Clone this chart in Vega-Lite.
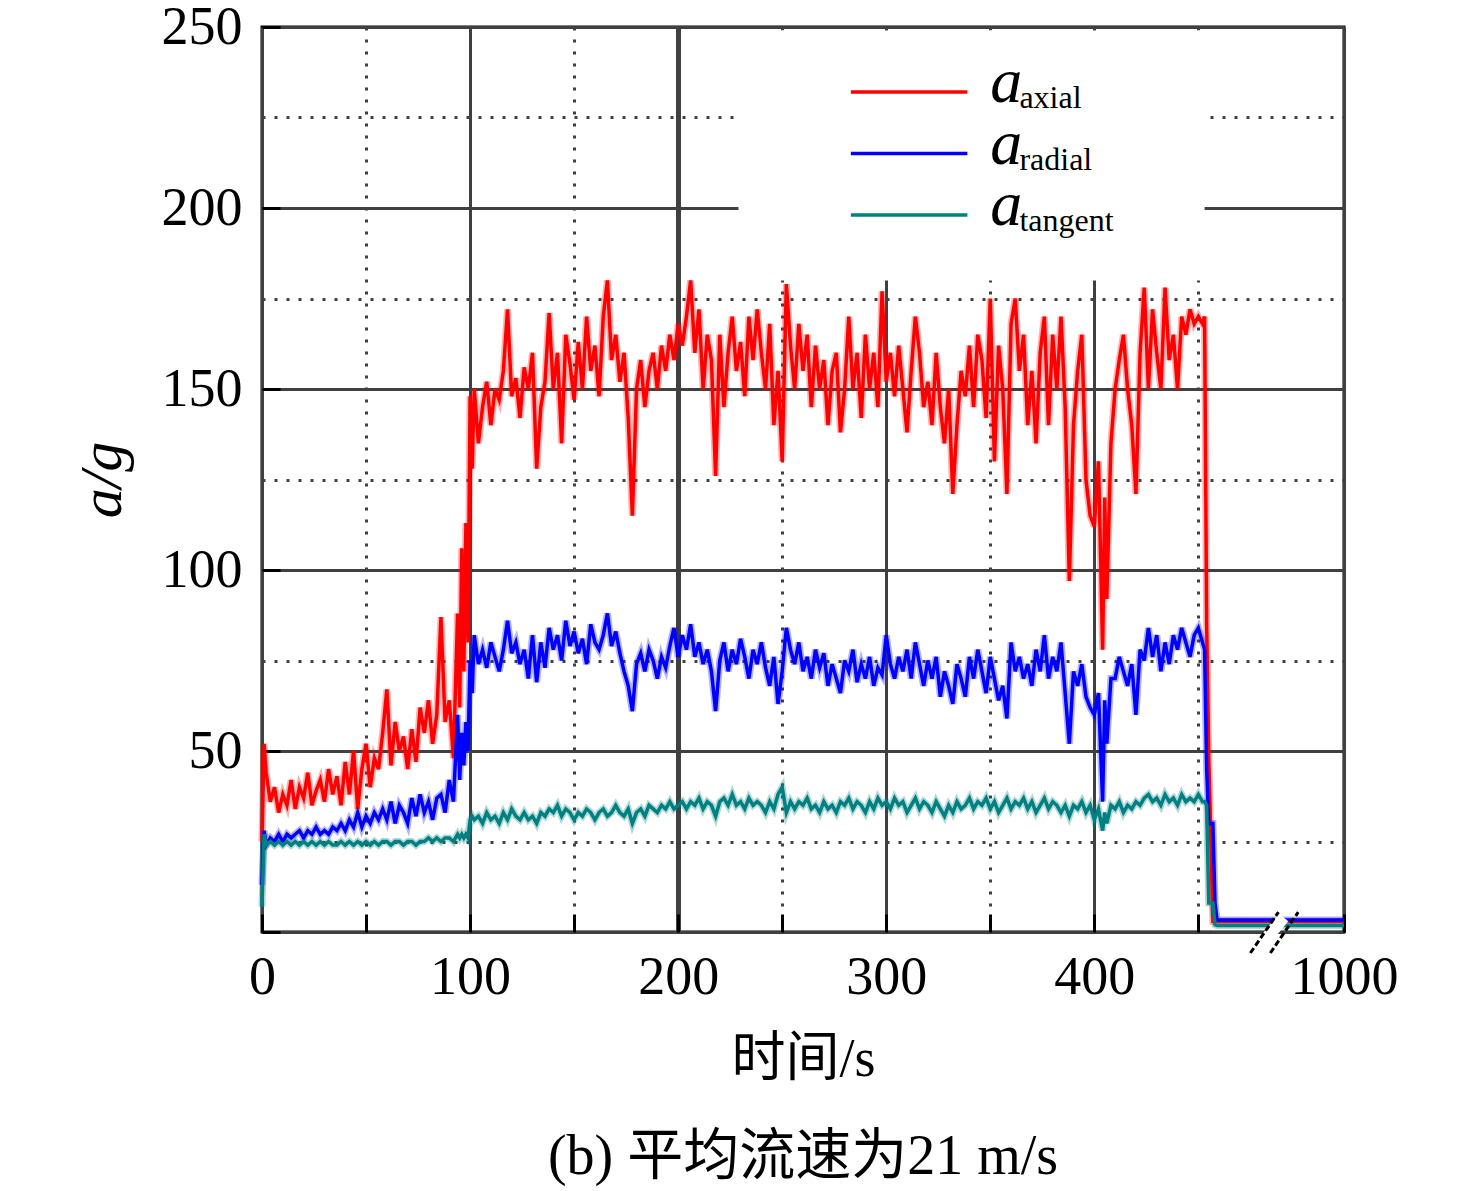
{
  "$schema": "https://vega.github.io/schema/vega-lite/v6.json",
  "width": 1082,
  "height": 905,
  "autosize": {"type": "none"},
  "padding": {"left": 262, "top": 27, "right": 132, "bottom": 259},
  "background": "white",
  "title": {"text": "(b) 平均流速为21 m/s", "orient": "bottom", "anchor": "middle", "fontSize": 56, "font": "Liberation Serif, Noto Sans CJK SC", "fontWeight": "normal", "color": "black", "offset": 44},
  "config": {
    "view": {"stroke": "black", "strokeWidth": 3},
    "axis": {"labelFont": "Liberation Serif", "labelFontSize": 54, "labelColor": "black", "titleFont": "Liberation Serif, Noto Sans CJK SC", "titleFontSize": 54, "titleFontWeight": "normal", "titleColor": "black", "domain": false, "grid": true, "gridColor": "#404040", "gridWidth": 3, "ticks": true, "tickSize": -18, "tickColor": "black", "tickWidth": 3, "labelFlush": false, "labelOverlap": false}
  },
  "datasets": {
    "series": [
{"t":0,"axial":25,"radial":13,"tangent":7},
{"t":1,"axial":52,"radial":28,"tangent":27},
{"t":2,"axial":44,"radial":24,"tangent":24},
{"t":4,"axial":36,"radial":26,"tangent":25},
{"t":6,"axial":40,"radial":25,"tangent":24},
{"t":8,"axial":33,"radial":27,"tangent":25},
{"t":10,"axial":38,"radial":25,"tangent":24},
{"t":12,"axial":35,"radial":27,"tangent":25},
{"t":14,"axial":42,"radial":26,"tangent":24},
{"t":16,"axial":34,"radial":27,"tangent":25},
{"t":18,"axial":40,"radial":28,"tangent":24},
{"t":20,"axial":37,"radial":26,"tangent":25},
{"t":22,"axial":44,"radial":28,"tangent":24},
{"t":24,"axial":35,"radial":27,"tangent":25},
{"t":26,"axial":39,"radial":29,"tangent":24},
{"t":28,"axial":42,"radial":27,"tangent":25},
{"t":30,"axial":36,"radial":28,"tangent":24},
{"t":32,"axial":45,"radial":27,"tangent":25},
{"t":34,"axial":38,"radial":29,"tangent":24},
{"t":36,"axial":43,"radial":28,"tangent":24},
{"t":38,"axial":35,"radial":30,"tangent":25},
{"t":40,"axial":47,"radial":28,"tangent":24},
{"t":42,"axial":38,"radial":31,"tangent":25},
{"t":44,"axial":50,"radial":29,"tangent":24},
{"t":46,"axial":34,"radial":33,"tangent":25},
{"t":48,"axial":45,"radial":29,"tangent":24},
{"t":50,"axial":52,"radial":32,"tangent":25},
{"t":52,"axial":40,"radial":30,"tangent":24},
{"t":54,"axial":48,"radial":33,"tangent":25},
{"t":56,"axial":45,"radial":31,"tangent":24},
{"t":58,"axial":55,"radial":34,"tangent":25},
{"t":60,"axial":67,"radial":31,"tangent":25},
{"t":62,"axial":46,"radial":36,"tangent":24},
{"t":64,"axial":58,"radial":30,"tangent":25},
{"t":66,"axial":50,"radial":35,"tangent":25},
{"t":68,"axial":54,"radial":33,"tangent":24},
{"t":70,"axial":45,"radial":30,"tangent":25},
{"t":72,"axial":56,"radial":37,"tangent":25},
{"t":74,"axial":47,"radial":32,"tangent":24},
{"t":76,"axial":62,"radial":38,"tangent":25},
{"t":78,"axial":55,"radial":33,"tangent":25},
{"t":80,"axial":64,"radial":36,"tangent":26},
{"t":82,"axial":52,"radial":31,"tangent":25},
{"t":84,"axial":60,"radial":37,"tangent":26},
{"t":86,"axial":87,"radial":38,"tangent":25},
{"t":88,"axial":58,"radial":33,"tangent":26},
{"t":90,"axial":64,"radial":42,"tangent":26},
{"t":92,"axial":48,"radial":36,"tangent":25},
{"t":94,"axial":88,"radial":60,"tangent":27},
{"t":95,"axial":62,"radial":42,"tangent":26},
{"t":96,"axial":106,"radial":55,"tangent":27},
{"t":97,"axial":72,"radial":46,"tangent":26},
{"t":98,"axial":113,"radial":58,"tangent":27},
{"t":99,"axial":80,"radial":50,"tangent":26},
{"t":100,"axial":148,"radial":75,"tangent":31},
{"t":101,"axial":128,"radial":66,"tangent":32},
{"t":102,"axial":150,"radial":82,"tangent":31},
{"t":104,"axial":135,"radial":74,"tangent":32},
{"t":106,"axial":145,"radial":78,"tangent":30},
{"t":108,"axial":152,"radial":73,"tangent":33},
{"t":110,"axial":140,"radial":80,"tangent":31},
{"t":112,"axial":150,"radial":76,"tangent":32},
{"t":114,"axial":147,"radial":72,"tangent":30},
{"t":116,"axial":155,"radial":78,"tangent":33},
{"t":118,"axial":172,"radial":86,"tangent":31},
{"t":120,"axial":148,"radial":77,"tangent":34},
{"t":122,"axial":153,"radial":80,"tangent":32},
{"t":124,"axial":142,"radial":74,"tangent":31},
{"t":126,"axial":156,"radial":78,"tangent":33},
{"t":128,"axial":150,"radial":70,"tangent":31},
{"t":130,"axial":160,"radial":82,"tangent":32},
{"t":132,"axial":128,"radial":69,"tangent":30},
{"t":134,"axial":145,"radial":80,"tangent":33},
{"t":136,"axial":152,"radial":73,"tangent":32},
{"t":138,"axial":171,"radial":84,"tangent":34},
{"t":140,"axial":150,"radial":78,"tangent":33},
{"t":142,"axial":160,"radial":82,"tangent":35},
{"t":144,"axial":135,"radial":75,"tangent":32},
{"t":146,"axial":165,"radial":86,"tangent":34},
{"t":148,"axial":157,"radial":79,"tangent":33},
{"t":150,"axial":147,"radial":83,"tangent":31},
{"t":152,"axial":163,"radial":77,"tangent":33},
{"t":154,"axial":150,"radial":81,"tangent":32},
{"t":156,"axial":170,"radial":74,"tangent":34},
{"t":158,"axial":155,"radial":85,"tangent":33},
{"t":160,"axial":162,"radial":80,"tangent":31},
{"t":162,"axial":148,"radial":78,"tangent":33},
{"t":164,"axial":170,"radial":82,"tangent":34},
{"t":166,"axial":180,"radial":88,"tangent":32},
{"t":168,"axial":158,"radial":79,"tangent":33},
{"t":170,"axial":165,"radial":83,"tangent":35},
{"t":172,"axial":152,"radial":77,"tangent":33},
{"t":174,"axial":160,"radial":72,"tangent":32},
{"t":176,"axial":142,"radial":68,"tangent":34},
{"t":178,"axial":115,"radial":61,"tangent":30},
{"t":180,"axial":150,"radial":74,"tangent":33},
{"t":182,"axial":158,"radial":77,"tangent":34},
{"t":184,"axial":145,"radial":72,"tangent":32},
{"t":186,"axial":155,"radial":78,"tangent":35},
{"t":188,"axial":160,"radial":75,"tangent":34},
{"t":190,"axial":150,"radial":70,"tangent":33},
{"t":192,"axial":162,"radial":76,"tangent":35},
{"t":194,"axial":155,"radial":73,"tangent":34},
{"t":196,"axial":165,"radial":79,"tangent":36},
{"t":198,"axial":158,"radial":84,"tangent":34},
{"t":200,"axial":168,"radial":76,"tangent":35},
{"t":202,"axial":162,"radial":82,"tangent":36},
{"t":204,"axial":170,"radial":78,"tangent":34},
{"t":206,"axial":180,"radial":85,"tangent":36},
{"t":208,"axial":160,"radial":76,"tangent":35},
{"t":210,"axial":172,"radial":80,"tangent":37},
{"t":212,"axial":150,"radial":74,"tangent":34},
{"t":214,"axial":165,"radial":78,"tangent":36},
{"t":216,"axial":158,"radial":72,"tangent":35},
{"t":218,"axial":126,"radial":61,"tangent":32},
{"t":220,"axial":165,"radial":75,"tangent":36},
{"t":222,"axial":145,"radial":80,"tangent":37},
{"t":224,"axial":160,"radial":72,"tangent":35},
{"t":226,"axial":170,"radial":78,"tangent":38},
{"t":228,"axial":155,"radial":74,"tangent":35},
{"t":230,"axial":163,"radial":81,"tangent":36},
{"t":232,"axial":148,"radial":76,"tangent":34},
{"t":234,"axial":170,"radial":70,"tangent":37},
{"t":236,"axial":158,"radial":78,"tangent":35},
{"t":238,"axial":172,"radial":74,"tangent":36},
{"t":240,"axial":160,"radial":80,"tangent":35},
{"t":242,"axial":150,"radial":73,"tangent":33},
{"t":244,"axial":168,"radial":68,"tangent":36},
{"t":246,"axial":140,"radial":76,"tangent":34},
{"t":248,"axial":155,"radial":63,"tangent":38},
{"t":250,"axial":130,"radial":72,"tangent":40},
{"t":252,"axial":179,"radial":84,"tangent":33},
{"t":254,"axial":162,"radial":78,"tangent":36},
{"t":256,"axial":150,"radial":74,"tangent":34},
{"t":258,"axial":168,"radial":80,"tangent":36},
{"t":260,"axial":155,"radial":72,"tangent":35},
{"t":262,"axial":165,"radial":76,"tangent":37},
{"t":264,"axial":145,"radial":70,"tangent":34},
{"t":266,"axial":162,"radial":78,"tangent":35},
{"t":268,"axial":150,"radial":73,"tangent":33},
{"t":270,"axial":158,"radial":77,"tangent":36},
{"t":272,"axial":140,"radial":68,"tangent":34},
{"t":274,"axial":155,"radial":74,"tangent":35},
{"t":276,"axial":160,"radial":70,"tangent":33},
{"t":278,"axial":138,"radial":66,"tangent":36},
{"t":280,"axial":150,"radial":75,"tangent":35},
{"t":282,"axial":170,"radial":72,"tangent":37},
{"t":284,"axial":150,"radial":78,"tangent":34},
{"t":286,"axial":160,"radial":69,"tangent":36},
{"t":288,"axial":142,"radial":74,"tangent":35},
{"t":290,"axial":165,"radial":70,"tangent":33},
{"t":292,"axial":150,"radial":76,"tangent":36},
{"t":294,"axial":160,"radial":68,"tangent":34},
{"t":296,"axial":145,"radial":73,"tangent":37},
{"t":298,"axial":177,"radial":71,"tangent":35},
{"t":300,"axial":152,"radial":82,"tangent":36},
{"t":302,"axial":160,"radial":74,"tangent":34},
{"t":304,"axial":148,"radial":70,"tangent":37},
{"t":306,"axial":162,"radial":76,"tangent":35},
{"t":308,"axial":150,"radial":72,"tangent":36},
{"t":310,"axial":138,"radial":78,"tangent":33},
{"t":312,"axial":155,"radial":70,"tangent":35},
{"t":314,"axial":170,"radial":80,"tangent":37},
{"t":316,"axial":160,"radial":74,"tangent":34},
{"t":318,"axial":145,"radial":68,"tangent":36},
{"t":320,"axial":152,"radial":75,"tangent":35},
{"t":322,"axial":140,"radial":70,"tangent":33},
{"t":324,"axial":160,"radial":76,"tangent":36},
{"t":326,"axial":145,"radial":65,"tangent":34},
{"t":328,"axial":135,"radial":72,"tangent":32},
{"t":330,"axial":150,"radial":68,"tangent":35},
{"t":332,"axial":121,"radial":63,"tangent":33},
{"t":334,"axial":140,"radial":74,"tangent":36},
{"t":336,"axial":155,"radial":70,"tangent":34},
{"t":338,"axial":148,"radial":65,"tangent":35},
{"t":340,"axial":162,"radial":76,"tangent":37},
{"t":342,"axial":145,"radial":70,"tangent":34},
{"t":344,"axial":165,"radial":78,"tangent":36},
{"t":346,"axial":158,"radial":72,"tangent":35},
{"t":348,"axial":142,"radial":66,"tangent":37},
{"t":350,"axial":175,"radial":76,"tangent":34},
{"t":352,"axial":130,"radial":70,"tangent":36},
{"t":354,"axial":162,"radial":64,"tangent":33},
{"t":356,"axial":150,"radial":68,"tangent":35},
{"t":358,"axial":121,"radial":59,"tangent":37},
{"t":360,"axial":168,"radial":80,"tangent":34},
{"t":362,"axial":175,"radial":72,"tangent":36},
{"t":364,"axial":155,"radial":76,"tangent":35},
{"t":366,"axial":165,"radial":70,"tangent":37},
{"t":368,"axial":140,"radial":74,"tangent":34},
{"t":370,"axial":155,"radial":68,"tangent":36},
{"t":372,"axial":135,"radial":78,"tangent":33},
{"t":374,"axial":160,"radial":72,"tangent":35},
{"t":376,"axial":170,"radial":82,"tangent":37},
{"t":378,"axial":140,"radial":70,"tangent":34},
{"t":380,"axial":165,"radial":76,"tangent":36},
{"t":382,"axial":150,"radial":72,"tangent":35},
{"t":384,"axial":170,"radial":80,"tangent":33},
{"t":386,"axial":145,"radial":66,"tangent":35},
{"t":388,"axial":97,"radial":52,"tangent":32},
{"t":390,"axial":140,"radial":72,"tangent":35},
{"t":392,"axial":155,"radial":68,"tangent":34},
{"t":394,"axial":165,"radial":74,"tangent":36},
{"t":396,"axial":125,"radial":65,"tangent":33},
{"t":398,"axial":115,"radial":62,"tangent":35},
{"t":400,"axial":112,"radial":60,"tangent":31},
{"t":402,"axial":130,"radial":66,"tangent":34},
{"t":404,"axial":78,"radial":36,"tangent":28},
{"t":405,"axial":120,"radial":64,"tangent":33},
{"t":406,"axial":92,"radial":52,"tangent":30},
{"t":408,"axial":135,"radial":70,"tangent":35},
{"t":410,"axial":150,"radial":70,"tangent":34},
{"t":412,"axial":158,"radial":76,"tangent":36},
{"t":414,"axial":165,"radial":72,"tangent":33},
{"t":416,"axial":150,"radial":68,"tangent":35},
{"t":418,"axial":140,"radial":74,"tangent":34},
{"t":420,"axial":121,"radial":60,"tangent":36},
{"t":422,"axial":160,"radial":78,"tangent":35},
{"t":424,"axial":178,"radial":75,"tangent":37},
{"t":426,"axial":150,"radial":84,"tangent":38},
{"t":428,"axial":172,"radial":76,"tangent":36},
{"t":430,"axial":160,"radial":82,"tangent":37},
{"t":432,"axial":150,"radial":72,"tangent":35},
{"t":434,"axial":178,"radial":80,"tangent":38},
{"t":436,"axial":158,"radial":74,"tangent":36},
{"t":438,"axial":165,"radial":82,"tangent":37},
{"t":440,"axial":150,"radial":78,"tangent":35},
{"t":442,"axial":170,"radial":84,"tangent":38},
{"t":444,"axial":165,"radial":80,"tangent":36},
{"t":446,"axial":172,"radial":76,"tangent":37},
{"t":448,"axial":168,"radial":82,"tangent":36},
{"t":450,"axial":170,"radial":84,"tangent":38},
{"t":452,"axial":168,"radial":80,"tangent":36},
{"t":453,"axial":170,"radial":78,"tangent":36},
{"t":454,"axial":85,"radial":45,"tangent":35},
{"t":455,"axial":48,"radial":30,"tangent":8},
{"t":457,"axial":3,"radial":30,"tangent":8},
{"t":458,"axial":3,"radial":8,"tangent":2},
{"t":459,"axial":3,"radial":3.3,"tangent":1.8},
{"t":520,"axial":3,"radial":3.3,"tangent":1.8}
    ],
    "legend": [{"s": "axial"}, {"s": "radial"}, {"s": "tangent"}]
  },
  "layer": [
    {
      "layer": [
        {
          "data": {"values": [{}]},
          "mark": {"type": "rect", "color": "white"},
          "encoding": {"x": {"datum": 229}, "x2": {"datum": 453}, "y": {"datum": 180}, "y2": {"datum": 249}}
        },
        {
          "data": {"name": "series"},
          "transform": [{"fold": ["axial", "radial", "tangent"], "as": ["s", "v"]}],
          "mark": {"type": "line", "strokeWidth": 7, "opacity": 0.3},
          "encoding": {
            "x": {"field": "t", "type": "quantitative"},
            "y": {"field": "v", "type": "quantitative"},
            "color": {"field": "s", "type": "nominal", "legend": null},
            "order": {"field": "t", "type": "quantitative"}
          }
        },
        {
          "data": {"name": "series"},
          "transform": [{"fold": ["axial", "radial", "tangent"], "as": ["s", "v"]}],
          "mark": {"type": "line", "strokeWidth": 3.5},
          "encoding": {
            "x": {"field": "t", "type": "quantitative", "scale": {"domain": [0, 520], "nice": false, "zero": false},
              "axis": {"title": "时间/s", "values": [0, 50, 100, 150, 200, 250, 300, 350, 400, 450, 520],
                "labelExpr": "datum.value == 520 ? '1000' : (datum.value % 100 == 0 ? datum.label : '')",
                "labelPadding": 36, "titlePadding": 28,
                "gridDash": {"condition": {"test": "datum.value % 100 != 0 && datum.value != 520", "value": [3, 9]}, "value": []},
                "gridWidth": {"condition": {"test": "datum.value == 200", "value": 5}, "value": 3}}},
            "y": {"field": "v", "type": "quantitative", "scale": {"domain": [0, 250], "nice": false},
              "axis": {"title": "a/g", "titleFontStyle": "italic", "titleFontSize": 60, "values": [0, 25, 50, 75, 100, 125, 150, 175, 200, 225, 250],
                "labelExpr": "datum.value % 50 == 0 && datum.value > 0 ? datum.label : ''",
                "labelPadding": 38, "titlePadding": 28,
                "tickOpacity": {"condition": {"test": "datum.value % 50 != 0", "value": 0}, "value": 1},
                "gridDash": {"condition": {"test": "datum.value % 50 != 0", "value": [3, 9]}, "value": []}}},
            "color": {"field": "s", "type": "nominal", "scale": {"domain": ["axial", "radial", "tangent"], "range": ["#ff0000", "#0000ff", "#008080"]}, "legend": null},
            "order": {"field": "t", "type": "quantitative"}
          }
        },
        {
          "data": {"values": [{}]},
          "mark": {"type": "rule", "color": "white", "strokeWidth": 12},
          "encoding": {"x": {"datum": 481}, "y": {"datum": -3}, "x2": {"datum": 491}, "y2": {"datum": 4}}
        },
        {
          "data": {"values": [{}]},
          "mark": {"type": "rule", "color": "black", "strokeWidth": 3, "strokeDash": [6, 3]},
          "encoding": {"x": {"datum": 475}, "y": {"datum": -5.8}, "x2": {"datum": 488.5}, "y2": {"datum": 5.5}}
        },
        {
          "data": {"values": [{}]},
          "mark": {"type": "rule", "color": "black", "strokeWidth": 3, "strokeDash": [6, 3]},
          "encoding": {"x": {"datum": 484.6}, "y": {"datum": -5.8}, "x2": {"datum": 498}, "y2": {"datum": 5.5}}
        }
      ]
    },
    {
      "data": {"name": "legend"},
      "encoding": {
        "y": {"field": "s", "type": "nominal", "scale": {"domain": ["axial", "radial", "tangent"], "range": [34.25, 218.75]}, "axis": null}
      },
      "layer": [
        {
          "mark": {"type": "rule", "strokeWidth": 3.5},
          "encoding": {"x": {"datum": 283}, "x2": {"datum": 339}, "color": {"field": "s", "type": "nominal", "legend": null}}
        },
        {
          "mark": {"type": "text", "text": "a", "font": "Liberation Serif", "fontStyle": "italic", "fontSize": 64, "align": "left", "baseline": "alphabetic", "dy": 10, "color": "black"},
          "encoding": {"x": {"datum": 350}}
        },
        {
          "mark": {"type": "text", "font": "Liberation Serif", "fontSize": 32, "align": "left", "baseline": "alphabetic", "dy": 16, "color": "black"},
          "encoding": {"x": {"datum": 364}, "text": {"field": "s"}}
        }
      ]
    }
  ],
  "resolve": {"scale": {"y": "independent"}, "axis": {"y": "independent"}}
}
